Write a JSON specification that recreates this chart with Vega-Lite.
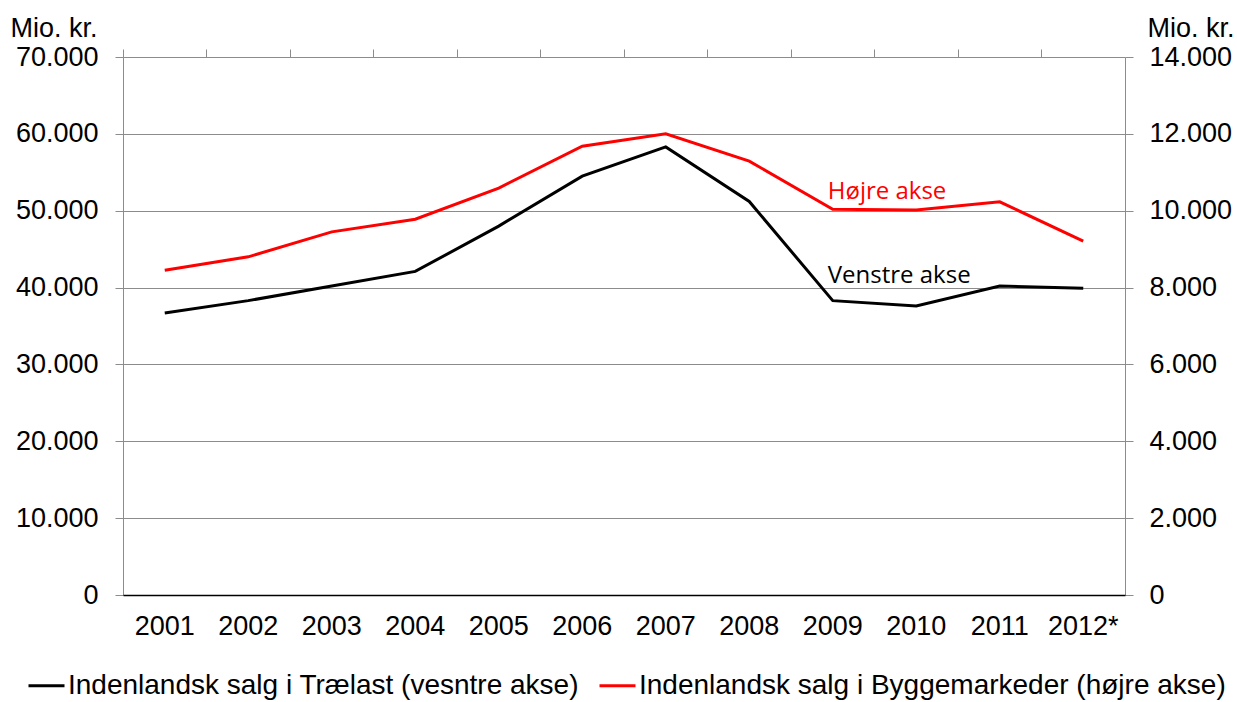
{
  "$schema": "https://vega.github.io/schema/vega-lite/v6.json",
  "width": 1002,
  "height": 538,
  "autosize": {"type": "none"},
  "padding": {"left": 123, "top": 57, "right": 112, "bottom": 107},
  "background": "white",
  "datasets": {
    "sales": [
      {"year": "2001", "series": "Indenlandsk salg i Trælast (vesntre akse)", "value": 36700},
      {"year": "2002", "series": "Indenlandsk salg i Trælast (vesntre akse)", "value": 38300},
      {"year": "2003", "series": "Indenlandsk salg i Trælast (vesntre akse)", "value": 40200},
      {"year": "2004", "series": "Indenlandsk salg i Trælast (vesntre akse)", "value": 42100},
      {"year": "2005", "series": "Indenlandsk salg i Trælast (vesntre akse)", "value": 48000},
      {"year": "2006", "series": "Indenlandsk salg i Trælast (vesntre akse)", "value": 54500},
      {"year": "2007", "series": "Indenlandsk salg i Trælast (vesntre akse)", "value": 58300},
      {"year": "2008", "series": "Indenlandsk salg i Trælast (vesntre akse)", "value": 51200},
      {"year": "2009", "series": "Indenlandsk salg i Trælast (vesntre akse)", "value": 38300},
      {"year": "2010", "series": "Indenlandsk salg i Trælast (vesntre akse)", "value": 37600},
      {"year": "2011", "series": "Indenlandsk salg i Trælast (vesntre akse)", "value": 40200},
      {"year": "2012*", "series": "Indenlandsk salg i Trælast (vesntre akse)", "value": 39900},
      {"year": "2001", "series": "Indenlandsk salg i Byggemarkeder  (højre akse)", "value": 8450},
      {"year": "2002", "series": "Indenlandsk salg i Byggemarkeder  (højre akse)", "value": 8800},
      {"year": "2003", "series": "Indenlandsk salg i Byggemarkeder  (højre akse)", "value": 9450},
      {"year": "2004", "series": "Indenlandsk salg i Byggemarkeder  (højre akse)", "value": 9780},
      {"year": "2005", "series": "Indenlandsk salg i Byggemarkeder  (højre akse)", "value": 10590},
      {"year": "2006", "series": "Indenlandsk salg i Byggemarkeder  (højre akse)", "value": 11680},
      {"year": "2007", "series": "Indenlandsk salg i Byggemarkeder  (højre akse)", "value": 12000},
      {"year": "2008", "series": "Indenlandsk salg i Byggemarkeder  (højre akse)", "value": 11290},
      {"year": "2009", "series": "Indenlandsk salg i Byggemarkeder  (højre akse)", "value": 10040},
      {"year": "2010", "series": "Indenlandsk salg i Byggemarkeder  (højre akse)", "value": 10020},
      {"year": "2011", "series": "Indenlandsk salg i Byggemarkeder  (højre akse)", "value": 10230},
      {"year": "2012*", "series": "Indenlandsk salg i Byggemarkeder  (højre akse)", "value": 9210}
    ],
    "notes": [
      {"year": "2009", "label": "Højre akse", "value": 52400, "kind": "right"},
      {"year": "2009", "label": "Venstre akse", "value": 41500, "kind": "left"}
    ]
  },
  "config": {
    "locale": {"number": {"decimal": ",", "thousands": ".", "grouping": [3], "currency": ["", " kr."]}},
    "font": "Liberation Sans",
    "view": {"stroke": null},
    "axis": {
      "labelFont": "Liberation Sans",
      "labelFontSize": 27,
      "labelColor": "#000000",
      "titleFont": "Liberation Sans",
      "titleFontSize": 27,
      "titleFontWeight": "normal",
      "titleColor": "#000000"
    }
  },
  "layer": [
    {
      "data": {"name": "sales"},
      "transform": [{"filter": "datum.series === 'Indenlandsk salg i Trælast (vesntre akse)'"}],
      "mark": {"type": "line", "strokeWidth": 3},
      "encoding": {
        "x": {
          "field": "year", "type": "ordinal", "bandPosition": 0.5, "sort": null,
          "scale": {"type": "band", "paddingInner": 0, "paddingOuter": 0},
          "axis": {
            "title": null, "ticks": false, "labelPadding": 18, "labelAngle": 0, "zindex": 1,
            "domain": true, "domainColor": "#000000", "domainWidth": 1.5, "grid": false
          }
        },
        "y": {
          "field": "value", "type": "quantitative",
          "scale": {"domain": [0, 70000], "nice": false},
          "axis": {
            "orient": "left", "values": [0, 10000, 20000, 30000, 40000, 50000, 60000, 70000],
            "format": ",.0f", "grid": true, "gridColor": "#8c8c8c", "gridWidth": 1,
            "domainColor": "#8c8c8c", "tickColor": "#8c8c8c", "tickSize": 8, "labelPadding": 17,
            "title": "Mio. kr.", "titleAngle": 0, "titleAlign": "left", "titleBaseline": "alphabetic",
            "titleX": -113, "titleY": -21
          }
        },
        "color": {
          "field": "series", "type": "nominal",
          "scale": {
            "domain": ["Indenlandsk salg i Trælast (vesntre akse)", "Indenlandsk salg i Byggemarkeder  (højre akse)"],
            "range": ["#000000", "#ff0000"]
          },
          "legend": {
            "orient": "none", "legendX": -96, "legendY": 609, "direction": "horizontal",
            "title": null, "symbolType": "stroke", "symbolSize": 1296, "symbolStrokeWidth": 3,
            "labelFont": "Liberation Sans", "labelFontSize": 28, "labelColor": "#000000",
            "labelLimit": 0, "labelOffset": 2, "columnPadding": 14
          }
        }
      }
    },
    {
      "data": {"name": "sales"},
      "transform": [{"filter": "datum.series === 'Indenlandsk salg i Byggemarkeder  (højre akse)'"}],
      "mark": {"type": "line", "strokeWidth": 3},
      "encoding": {
        "x": {
          "field": "year", "type": "ordinal", "bandPosition": 0.5, "sort": null,
          "axis": {
            "title": null, "labels": false, "ticks": true, "bandPosition": 0, "tickSize": 8,
            "tickColor": "#8c8c8c", "domain": false, "grid": false
          }
        },
        "y": {
          "field": "value", "type": "quantitative",
          "scale": {"domain": [0, 14000], "nice": false},
          "axis": {
            "orient": "right", "values": [0, 2000, 4000, 6000, 8000, 10000, 12000, 14000],
            "format": ",.0f", "grid": false,
            "domainColor": "#8c8c8c", "tickColor": "#8c8c8c", "tickSize": 8, "labelPadding": 16,
            "title": "Mio. kr.", "titleAngle": 0, "titleAlign": "left", "titleBaseline": "alphabetic",
            "titleX": 22, "titleY": -21
          }
        },
        "color": {"field": "series", "type": "nominal"}
      }
    },
    {
      "data": {"name": "notes"},
      "transform": [{"filter": "datum.kind === 'right'"}],
      "mark": {"type": "text", "align": "left", "baseline": "middle", "font": "Open Sans", "fontSize": 24, "dx": -5, "color": "#ff0000"},
      "encoding": {
        "x": {"field": "year", "type": "ordinal", "bandPosition": 0.5, "sort": null, "axis": null},
        "y": {"field": "value", "type": "quantitative", "scale": {"domain": [0, 70000], "nice": false}, "axis": null},
        "text": {"field": "label"}
      }
    },
    {
      "data": {"name": "notes"},
      "transform": [{"filter": "datum.kind === 'left'"}],
      "mark": {"type": "text", "align": "left", "baseline": "middle", "font": "Open Sans", "fontSize": 24, "dx": -5, "color": "#000000"},
      "encoding": {
        "x": {"field": "year", "type": "ordinal", "bandPosition": 0.5, "sort": null, "axis": null},
        "y": {"field": "value", "type": "quantitative", "scale": {"domain": [0, 70000], "nice": false}, "axis": null},
        "text": {"field": "label"}
      }
    }
  ],
  "resolve": {"scale": {"y": "independent"}, "axis": {"x": "independent"}}
}
